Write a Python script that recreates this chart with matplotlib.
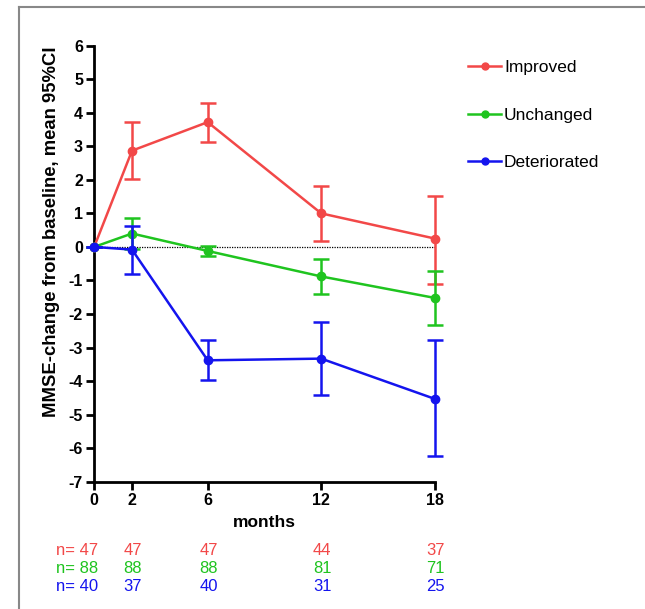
import matplotlib.pyplot as plt
from matplotlib.lines import Line2D

plt.rcParams['font.family'] = ['Liberation Sans', 'DejaVu Sans']
plt.rcParams['axes.unicode_minus'] = False

# datos
meses = [0, 2, 6, 12, 18]
grupos = ["Improved", "Unchanged", "Deteriorated"]
colores = ["#f24848", "#1fc41f", "#1414ee"]

media_mejor = [0, 2.87, 3.72, 1.00, 0.25]
ic_bajo_mejor = [0, 2.03, 3.13, 0.18, -1.10]
ic_alto_mejor = [0, 3.72, 4.28, 1.82, 1.52]

media_igual = [0, 0.40, -0.12, -0.88, -1.52]
ic_bajo_igual = [0, -0.05, -0.27, -1.40, -2.32]
ic_alto_igual = [0, 0.87, 0.03, -0.35, -0.73]

media_peor = [0, -0.08, -3.38, -3.33, -4.53]
ic_bajo_peor = [0, -0.82, -3.97, -4.42, -6.22]
ic_alto_peor = [0, 0.62, -2.77, -2.23, -2.78]

n_mejor = [47, 47, 47, 44, 37]
n_igual = [88, 88, 88, 81, 71]
n_peor = [40, 37, 40, 31, 25]

fig = plt.figure(figsize=(6.45, 6.09), dpi=100)
ax = fig.add_axes([0.146, 0.209, 0.528, 0.716])

series = [
    (media_mejor, ic_bajo_mejor, ic_alto_mejor),
    (media_igual, ic_bajo_igual, ic_alto_igual),
    (media_peor, ic_bajo_peor, ic_alto_peor),
]
for (media, bajo, alto), color, z in zip(series, colores, [3, 4, 5]):
    err = [[m - b for m, b in zip(media, bajo)], [a - m for m, a in zip(media, alto)]]
    ax.errorbar(meses, media, yerr=err, color=color, lw=1.8, marker='o', ms=6,
                capsize=6, capthick=1.8, elinewidth=1.8, zorder=z, clip_on=False)

ax.axhline(0, color='black', lw=0.9, ls=(0, (1, 1)), zorder=2)

ax.set_xlim(0, 18)
ax.set_ylim(-7, 6)
ax.set_xticks(meses)
ax.set_yticks(range(-7, 7))
for s in ['top', 'right']:
    ax.spines[s].set_visible(False)
for s in ['left', 'bottom']:
    ax.spines[s].set_linewidth(2)
ax.tick_params(width=2, length=6, labelsize=11.5, pad=2)
for lab in ax.get_xticklabels() + ax.get_yticklabels():
    lab.set_fontweight('bold')
ax.set_xlabel("months", fontsize=12.5, fontweight='bold', labelpad=5)
ax.set_ylabel("MMSE-change from baseline, mean 95%CI", fontsize=13.3, fontweight='bold')
ax.yaxis.set_label_coords(-0.10, 0.573)

# leyenda a la derecha
handles = [Line2D([0], [0], color=c, lw=1.8, marker='o', ms=5) for c in colores]
fig.legend(handles, grupos, loc='upper left', bbox_to_anchor=(0.702, 0.927), frameon=False,
           fontsize=12.5, handlelength=1.9, handletextpad=0.15, labelspacing=1.87)

# numeros de pacientes debajo del eje
filas = [n_mejor, n_igual, n_peor]
for i, (fila, color) in enumerate(zip(filas, colores)):
    y = -9.05 - i * 0.54
    for j, (x, n) in enumerate(zip(meses, fila)):
        if j == 0:
            ax.text(x + 0.2, y, f"n= {n}", color=color, fontsize=12, ha='right', va='center', clip_on=False)
        else:
            ax.text(x + 0.05, y, str(n), color=color, fontsize=12, ha='center', va='center', clip_on=False)

# marco gris de la imagen
fig.add_artist(Line2D([0.030, 0.030], [0.0, 0.988], color='#888888', lw=1.5))
fig.add_artist(Line2D([0.030, 1.0], [0.988, 0.988], color='#888888', lw=1.5))

fig.savefig("out.png", dpi=100)
